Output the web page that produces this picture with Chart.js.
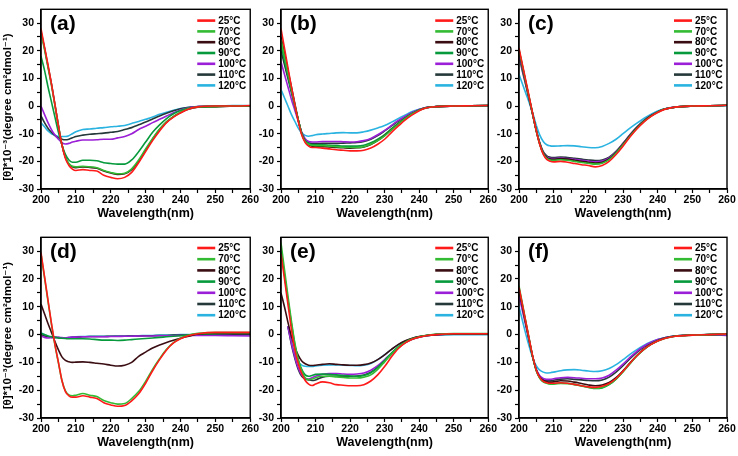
<!DOCTYPE html>
<html><head><meta charset="utf-8">
<script src="https://cdn.jsdelivr.net/npm/chart.js@4/dist/chart.umd.min.js"></script>
<style>
html,body{margin:0;padding:0;background:#fff;}
#wrap{position:relative;width:738px;height:456px;overflow:hidden;background:#fff;}
canvas{position:absolute;}
</style></head><body><div id="wrap">
<canvas id="ca" width="260" height="225" style="left:0;top:0"></canvas>
<canvas id="cb" width="243" height="225" style="left:255px;top:0"></canvas>
<canvas id="cc" width="243" height="225" style="left:495px;top:0"></canvas>
<canvas id="cd" width="260" height="228" style="left:0;top:228px"></canvas>
<canvas id="ce" width="243" height="228" style="left:255px;top:228px"></canvas>
<canvas id="cf" width="243" height="228" style="left:495px;top:228px"></canvas>
</div>
<script>
// ---- data ----
const WL = [200,201,202,203,204,205,206,207,208,209,210,212,214,216,218,220,222,224,226,228,230,232,234,236,238,240,242,245,250,255,260];
const SERIES_LABELS = ['25°C','70°C','80°C','90°C','100°C','110°C','120°C'];
const X_TICKS = [200,210,220,230,240,250,260];
const Y_TICKS = [-30,-20,-10,0,10,20,30];

// panel (a)
const A25  = [28,21.5,15,8,0.5,-7.3,-14,-19,-21.5,-22.8,-23.3,-23,-23.3,-23.5,-25,-25.8,-26.3,-25.8,-24,-20.5,-16.5,-12.5,-9,-6,-4,-2.5,-1.2,-0.3,0,0,0.2];
const A70  = [26.5,20.5,14,7.5,0.2,-7.2,-14,-18.5,-20.8,-21.8,-22,-21.8,-22,-22.3,-23.3,-24,-24.5,-24.3,-22.7,-19.5,-15.5,-11.7,-8.3,-5.6,-3.7,-2.2,-1.1,-0.3,-0.2,0,0.1];
const A80  = [27,21,14.5,8,0.5,-7,-14,-18.5,-21,-22,-22.3,-22,-22.2,-22.5,-23.5,-24.2,-24.7,-24.5,-23,-20,-16,-12,-8.5,-5.8,-3.8,-2.3,-1.2,-0.4,-0.3,0,0.1];
const A90  = [18,13,7,1.5,-4,-9.5,-14,-17.5,-19.5,-20.3,-20.3,-19.6,-19.6,-19.8,-20.5,-20.8,-21,-21,-19.5,-16.5,-13,-9.5,-6.8,-4.5,-2.8,-1.6,-0.8,-0.3,0,0,0.1];
const A100 = [0,-3,-6,-8.5,-10.5,-12,-13.2,-13.7,-13.5,-13,-12.7,-12.3,-12.3,-12.2,-12,-12,-11.5,-11,-10,-8.5,-7.3,-6,-4.8,-3.6,-2.4,-1.4,-0.7,-0.2,0,0,0];
const A110 = [-3.5,-6,-8,-9.5,-10.7,-11.5,-12,-12.2,-12,-11.5,-11,-10.5,-10.2,-10,-9.8,-9.5,-9.2,-8.5,-7.8,-6.8,-5.8,-4.7,-3.6,-2.6,-1.7,-1,-0.5,-0.2,0,0,0];
const A120 = [-6,-7.5,-9,-10,-10.5,-11,-11,-11,-10.7,-10,-9.3,-8.5,-8.3,-8,-7.8,-7.5,-7.3,-7,-6.3,-5.6,-4.8,-4,-3,-2.2,-1.5,-0.9,-0.5,-0.2,0,0.2,0.1];
// panel (b)
const B25  = [28,21,14,7,0.5,-5.5,-10.5,-13.2,-14.5,-15,-15,-15.2,-15.5,-15.8,-16,-16.2,-16.2,-16,-15.2,-13.8,-12,-9.5,-7.2,-5,-3.2,-1.7,-0.7,-0.2,0,0.1,0.2];
const B70  = [24,18,12,6.3,0.5,-5,-10,-12.8,-13.8,-14.2,-14.3,-14.3,-14.5,-14.7,-14.9,-15,-15,-14.7,-13.8,-12.5,-10.8,-8.6,-6.5,-4.5,-2.8,-1.5,-0.6,-0.2,0,0.1,0.2];
const B80  = [25,19,13,7,1,-5,-10,-12.8,-14,-14.5,-14.6,-14.7,-14.8,-15,-15.1,-15.2,-15.1,-14.8,-13.9,-12.5,-10.7,-8.5,-6.4,-4.4,-2.8,-1.5,-0.6,-0.2,0,0.1,0.2];
const B90  = [22,16.5,11,5.5,0,-5,-9.8,-12.5,-13.5,-14,-14,-14,-14.2,-14.3,-14.5,-14.5,-14.5,-14.2,-13.3,-12,-10.3,-8.2,-6.2,-4.3,-2.7,-1.4,-0.6,-0.2,0,0.1,0.2];
const B100 = [16,11.5,7,2.5,-1.5,-5.5,-9.5,-11.8,-12.8,-13,-13,-12.8,-12.8,-12.8,-12.9,-13,-12.9,-12.5,-11.7,-10.4,-8.8,-7,-5.2,-3.7,-2.3,-1.2,-0.5,-0.2,0,0.1,0.2];
const B110 = [20,15,10,5,0,-5,-9.7,-12.3,-13.3,-13.6,-13.6,-13.5,-13.5,-13.5,-13.4,-13.3,-13.2,-12.8,-12,-10.7,-9,-7.2,-5.4,-3.8,-2.4,-1.3,-0.5,-0.2,0,0.1,0.2];
const B120 = [6,3,0,-3,-5.5,-8,-9.8,-10.6,-10.9,-10.7,-10.4,-10.1,-9.9,-9.7,-9.6,-9.7,-9.7,-9.3,-8.7,-7.9,-7,-5.8,-4.5,-3.2,-2,-1.2,-0.6,-0.2,0,0,0.1];
// panel (c)
const C25  = [21,15,9,3,-3,-9,-14,-17.5,-19.3,-20,-20.2,-20,-20.3,-20.8,-21.2,-21.5,-22,-21.5,-20,-17.5,-14.5,-11.2,-8.3,-5.8,-3.8,-2.3,-1.2,-0.4,0,0.1,0.3];
const C70  = [20.5,14.5,8.5,2.7,-3.2,-9,-13.8,-17.2,-18.9,-19.5,-19.6,-19.4,-19.6,-20,-20.4,-20.7,-21,-20.7,-19.4,-17,-14,-10.9,-8,-5.6,-3.7,-2.2,-1.1,-0.4,0,0.1,0.3];
const C80  = [20,14,8.2,2.5,-3.3,-9,-13.7,-17,-18.6,-19.2,-19.3,-19,-19.2,-19.6,-20,-20.3,-20.6,-20.3,-19.1,-16.8,-13.8,-10.7,-7.9,-5.5,-3.6,-2.2,-1.1,-0.4,0,0.1,0.3];
const C90  = [20.3,14.3,8.4,2.6,-3.2,-9,-13.7,-17.1,-18.7,-19.3,-19.4,-19.2,-19.4,-19.8,-20.2,-20.5,-20.8,-20.5,-19.2,-16.9,-13.9,-10.8,-7.9,-5.5,-3.6,-2.2,-1.1,-0.4,0,0.1,0.3];
const C100 = [19,13.3,7.8,2.3,-3.3,-8.9,-13.5,-16.8,-18.4,-18.9,-19,-18.8,-19,-19.3,-19.6,-19.9,-20.2,-19.9,-18.8,-16.6,-13.6,-10.5,-7.7,-5.4,-3.5,-2.1,-1.1,-0.4,0,0.1,0.3];
const C110 = [18,12.5,7.3,2,-3.4,-8.8,-13.3,-16.5,-18,-18.5,-18.6,-18.4,-18.6,-18.9,-19.2,-19.5,-19.7,-19.5,-18.5,-16.4,-13.5,-10.4,-7.6,-5.3,-3.5,-2.1,-1.1,-0.4,0,0.1,0.3];
const C120 = [11.5,8,4.5,1,-2.7,-7,-10.5,-12.8,-14,-14.4,-14.5,-14.4,-14.3,-14.4,-14.7,-15,-15.1,-14.6,-13.5,-12,-10,-8,-6.2,-4.5,-3,-1.8,-1,-0.4,0,0,0.1];
// panel (d)
const D25  = [29.5,21,12.5,4,-3.5,-10,-16.5,-20.5,-22,-22.5,-22.5,-22,-22.5,-23,-24.5,-25.3,-25.8,-25.5,-23.8,-21.3,-17.5,-13,-9,-5.5,-3,-1.5,-0.5,0.3,0.8,0.8,0.8];
const D70  = [29,20.5,12,3.7,-3.8,-10.2,-16.5,-20.2,-21.7,-22,-21.8,-21.2,-21.8,-22.3,-23.7,-24.5,-25,-24.8,-23,-20.5,-16.8,-12.5,-8.7,-5.3,-2.9,-1.3,-0.3,0.5,0.7,0.7,0.7];
const D80  = [11,7.5,4,0.8,-2.5,-5.5,-8,-9.3,-9.8,-10,-9.9,-9.8,-10,-10.3,-10.6,-11,-11.3,-11,-10,-7.8,-6.3,-4.8,-3.7,-2.8,-2,-1.3,-0.7,0.2,0.5,0.5,0.5];
const D90  = [0.5,0,-0.5,-0.8,-1,-1.2,-1.3,-1.4,-1.5,-1.5,-1.5,-1.5,-1.6,-1.8,-2,-2,-2.1,-2,-1.8,-1.6,-1.4,-1.2,-1,-0.8,-0.6,-0.4,-0.2,0.1,0.3,0.5,0.6];
const D100 = [-0.5,-1,-1.2,-1.1,-1,-1,-1.1,-1.2,-1,-0.9,-0.9,-0.8,-0.8,-0.8,-0.8,-0.7,-0.7,-0.6,-0.6,-0.5,-0.5,-0.5,-0.4,-0.4,-0.4,-0.3,-0.3,-0.3,-0.3,-0.4,-0.5];
const D110 = [0,-0.5,-0.8,-1,-1,-1.1,-1.2,-1.3,-1.2,-1,-0.9,-0.8,-0.7,-0.7,-0.7,-0.6,-0.6,-0.6,-0.5,-0.5,-0.4,-0.4,-0.3,-0.3,-0.2,-0.2,-0.1,0,0,0,0];
const D120 = [0.7,0,-0.5,-0.8,-1,-1.1,-1.2,-1.3,-1.1,-0.9,-0.8,-0.7,-0.6,-0.6,-0.6,-0.6,-0.5,-0.5,-0.4,-0.4,-0.3,-0.3,-0.2,-0.2,-0.1,0,0,0,0,0,0];
// panel (e)
const E25  = [29,20,11,2,-5.5,-10.5,-14,-16.5,-17.8,-18.3,-17.8,-17,-17.3,-18,-18.2,-18.4,-18.4,-18,-16.7,-14.5,-11.5,-8,-5,-3,-1.7,-0.9,-0.4,0,0.3,0.3,0.3];
const E70  = [33,23.5,14,5,-3,-9,-13,-15.5,-16.2,-16,-15.5,-15,-15,-15.2,-15.4,-15.6,-15.6,-15.3,-14.5,-12.5,-9.8,-7,-4.5,-2.7,-1.5,-0.8,-0.3,0.1,0.4,0.4,0.4];
const E80  = [15,10,4.5,-0.5,-4.5,-7.5,-9.5,-10.5,-11,-11.1,-11,-10.7,-10.5,-10.7,-10.9,-11,-11,-10.8,-10.2,-9,-7.3,-5.3,-3.5,-2.2,-1.3,-0.7,-0.3,0,0.2,0.2,0.2];
const E90  = [30,21.5,12.5,4,-3.5,-9,-12.5,-14.5,-15,-14.7,-14.3,-14.2,-14.3,-14.5,-14.7,-14.9,-15,-14.7,-13.7,-11.8,-9.3,-6.6,-4.3,-2.6,-1.5,-0.8,-0.3,0.1,0.3,0.3,0.3];
const E100 = [null,null,3,-3,-8,-12,-14.5,-15.8,-16,-15.5,-15,-14.3,-14,-14,-14.2,-14.3,-14.2,-13.8,-12.8,-11.2,-9,-6.7,-4.5,-2.8,-1.6,-0.9,-0.4,0,0.2,0.2,0.2];
const E110 = [null,null,3,-3.5,-8.5,-12.5,-15,-16,-16.3,-16.5,-16.3,-15.3,-15,-15,-15,-15,-14.9,-14.5,-13.5,-11.8,-9.5,-7,-4.7,-2.9,-1.7,-0.9,-0.4,0,0.1,0.1,0.1];
const E120 = [null,null,3,-2.5,-7,-9.8,-11,-11.4,-11.5,-11.5,-11.3,-11,-10.9,-10.9,-11,-11.1,-11.2,-11,-10.4,-9,-7.2,-5.3,-3.6,-2.3,-1.4,-0.8,-0.4,-0.1,0,0,0];
// panel (f)
const F25  = [17,10.7,4.4,-1.9,-8,-12.8,-15.5,-16.8,-17.3,-17.5,-17.5,-17.3,-17.5,-17.9,-18.4,-18.8,-19,-18.6,-17.6,-15.8,-13.2,-10.3,-7.6,-5.3,-3.6,-2.3,-1.4,-0.6,-0.2,0,0.2];
const F70  = [17.5,11,4.5,-2,-8.3,-13,-15.7,-17,-17.5,-17.8,-17.8,-17.6,-17.7,-18,-18.5,-19,-19.3,-19,-17.9,-16,-13.4,-10.5,-7.7,-5.4,-3.6,-2.3,-1.4,-0.6,-0.2,0,0.1];
const F80  = [16,10,3.8,-2.3,-8.3,-12.8,-15.3,-16.5,-17,-17.1,-17,-16.6,-16.7,-17.1,-17.6,-18.1,-18.4,-18.1,-17.2,-15.5,-13,-10.2,-7.5,-5.3,-3.5,-2.2,-1.3,-0.6,-0.2,0,0.1];
const F90  = [16.5,10.3,4,-2.2,-8.3,-13,-15.6,-16.9,-17.4,-17.6,-17.6,-17.4,-17.5,-17.9,-18.4,-18.9,-19.4,-19.2,-18,-16,-13.3,-10.4,-7.6,-5.3,-3.5,-2.2,-1.3,-0.5,-0.2,0,0.2];
const F100 = [14,8.5,3,-2.7,-8.3,-12.5,-14.8,-15.8,-16.1,-16.1,-15.9,-15.5,-15.4,-15.5,-15.7,-15.9,-15.9,-15.6,-14.6,-12.8,-10.6,-8.2,-6,-4.2,-2.8,-1.8,-1.1,-0.5,-0.2,-0.2,-0.3];
const F110 = [15,9.3,3.5,-2.5,-8.3,-12.7,-15.2,-16.3,-16.6,-16.6,-16.4,-16,-15.9,-16.1,-16.3,-16.5,-16.6,-16.3,-15.3,-13.5,-11.2,-8.7,-6.4,-4.5,-3,-1.9,-1.1,-0.5,-0.2,0,0.1];
const F120 = [10,5,0,-4.5,-8.5,-11.3,-12.8,-13.5,-13.8,-13.7,-13.5,-13,-12.7,-12.6,-12.8,-13.1,-13.3,-13,-12.2,-10.8,-9,-7.1,-5.4,-3.9,-2.7,-1.8,-1.1,-0.5,-0.2,0,0];

const COLORS = ['#ff1a1a','#33bb33','#3a0d12','#079a3c','#9b1fd6','#26393a','#2ab3e0'];
const FONT = '"Liberation Sans", Arial, "DejaVu Sans", sans-serif';
const Y_TITLE = '[θ]*10⁻³(degree cm²dmol⁻¹)';

Chart.defaults.font.family = FONT;
Chart.defaults.color = '#000';

const decor = {
  id: 'decor',
  afterDraw(chart, args, o) {
    const ctx = chart.ctx, a = chart.chartArea;
    ctx.save();
    ctx.strokeStyle = '#000'; ctx.lineWidth = 1.4;
    ctx.strokeRect(a.left, a.top, a.right - a.left, a.bottom - a.top);
    ctx.fillStyle = '#000';
    ctx.font = 'bold 21px ' + FONT;
    ctx.textBaseline = 'middle'; ctx.textAlign = 'left';
    ctx.fillText(o.label, a.left + 9, a.top + 15);
    ctx.font = 'bold 10px ' + FONT;
    chart.data.datasets.forEach((ds, i) => {
      const y = a.top + o.legTop + i * o.legStep;
      ctx.strokeStyle = ds.borderColor; ctx.lineWidth = 2.6;
      ctx.beginPath(); ctx.moveTo(a.right - 53, y); ctx.lineTo(a.right - 35, y); ctx.stroke();
      ctx.fillStyle = '#000';
      ctx.fillText(ds.label, a.right - 32, y + 0.5);
    });
    if (o.yTitle) {
      ctx.translate(8, (a.top + a.bottom) / 2 + 8);
      ctx.rotate(-Math.PI / 2);
      ctx.textAlign = 'center';
      ctx.font = 'bold 11.5px ' + FONT;
      ctx.fillText(Y_TITLE, 0, 0);
    }
    ctx.restore();
  }
};

function makePanel(id, label, series, cfg) {
  const datasets = series.map((arr, i) => ({
    label: SERIES_LABELS[i],
    data: WL.map((x, j) => ({x: x, y: arr[j]})),
    borderColor: COLORS[i],
    borderWidth: 1.6,
    pointRadius: 0,
    fill: false,
    cubicInterpolationMode: 'monotone',
    spanGaps: false
  }));
  new Chart(document.getElementById(id), {
    type: 'line',
    data: {datasets},
    options: {
      responsive: false, animation: false, devicePixelRatio: 1,
      layout: {padding: {left: 0, top: 2, right: cfg.padR, bottom: 0}},
      plugins: {legend: {display: false}, tooltip: {enabled: false},
        decor: {label: label, legTop: cfg.legTop, legStep: cfg.legStep, yTitle: cfg.yTitle}},
      scales: {
        x: {
          type: 'linear', min: X_TICKS[0], max: X_TICKS[X_TICKS.length - 1],
          afterFit: s => { s.height = cfg.xH; },
          border: {display: true, color: '#000', width: 1.4},
          grid: {drawOnChartArea: false, drawTicks: true, tickLength: 4, tickColor: '#000', tickWidth: 1.2},
          ticks: {stepSize: 5, autoSkip: false, maxRotation: 0, padding: 1,
            font: {size: 10.5, weight: 'bold'}, color: '#000',
            callback: v => X_TICKS.includes(v) ? String(v) : ''},
          title: {display: true, text: 'Wavelength(nm)', font: {size: 12.5, weight: 'bold'}, color: '#000',
            padding: {top: 0, bottom: cfg.titlePad}}
        },
        y: {
          type: 'linear', min: -30, max: 35,
          afterFit: s => { s.width = cfg.yW; },
          border: {display: true, color: '#000', width: 1.4},
          grid: {drawOnChartArea: false, drawTicks: true, tickLength: 4, tickColor: '#000', tickWidth: 1.2},
          ticks: {stepSize: 5, autoSkip: false, padding: 3,
            font: {size: 10.5, weight: 'bold'}, color: '#000',
            callback: v => v > 30 ? null : (Y_TICKS.includes(v) ? String(v) : '')}
        }
      }
    },
    plugins: [decor]
  });
}

const TOP = {xH: 36, titlePad: 3.5, legTop: 11.3, legStep: 10.8};
const BOT = {xH: 38, titlePad: 6, legTop: 10.7, legStep: 11.2};
makePanel('ca', '(a)', [A25,A70,A80,A90,A100,A110,A120], Object.assign({yW: 41, padR: 9, yTitle: true}, TOP));
makePanel('cb', '(b)', [B25,B70,B80,B90,B100,B110,B120], Object.assign({yW: 26, padR: 9, yTitle: false}, TOP));
makePanel('cc', '(c)', [C25,C70,C80,C90,C100,C110,C120], Object.assign({yW: 24, padR: 11, yTitle: false}, TOP));
makePanel('cd', '(d)', [D25,D70,D80,D90,D100,D110,D120], Object.assign({yW: 41, padR: 9, yTitle: true}, BOT));
makePanel('ce', '(e)', [E25,E70,E80,E90,E100,E110,E120], Object.assign({yW: 26, padR: 9, yTitle: false}, BOT));
makePanel('cf', '(f)', [F25,F70,F80,F90,F100,F110,F120], Object.assign({yW: 24, padR: 11, yTitle: false}, BOT));
</script></body></html>
